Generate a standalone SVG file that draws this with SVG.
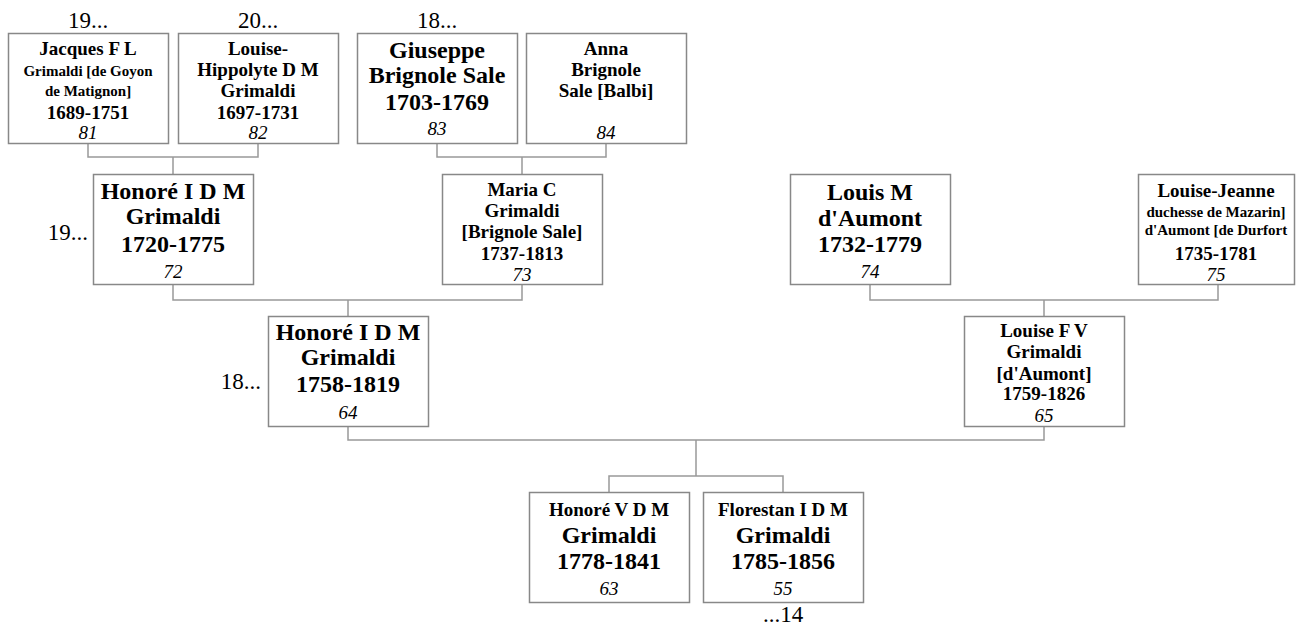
<svg xmlns="http://www.w3.org/2000/svg" width="1296" height="625" viewBox="0 0 1296 625">
<style>
.bx{fill:#fff;stroke:#888;stroke-width:1.5}
.cn{fill:none;stroke:#999;stroke-width:1.5}
text{font-family:"Liberation Serif","Times New Roman",serif;fill:#000;text-anchor:middle}
.b{font-weight:bold}
.s{font-size:15px}
.m{font-size:19px}
.l{font-size:24px}
.n{font-style:italic;font-size:19px}
.o{font-size:23px}
.e{text-anchor:end}
</style>
<rect width="1296" height="625" fill="#fff"/>
<g id="connectors">
<path class="cn" d="M88,143.5V157H258V143.5M173,157V174"/>
<path class="cn" d="M437,143.5V157H606V143.5M522,157V174"/>
<path class="cn" d="M173,284V300H522V284M348,300V316"/>
<path class="cn" d="M870,284V300H1218V284M1044,300V316"/>
<path class="cn" d="M348,426V440H1044V426M696,440V476M609,492V476H783V492"/>
</g>
<g id="labels">
<text class="o" x="88" y="28">19...</text>
<text class="o" x="258" y="28">20...</text>
<text class="o" x="437" y="28">18...</text>
<text class="o e" x="88" y="240">19...</text>
<text class="o e" x="261" y="389">18...</text>
<text class="o" x="783" y="622">...14</text>
</g>
<g id="p81">
<rect class="bx" x="8.5" y="33.5" width="160" height="110"/>
<text class="b m" x="88" y="55">Jacques F L</text>
<text class="b s" x="88" y="76">Grimaldi [de Goyon</text>
<text class="b s" x="88" y="96">de Matignon]</text>
<text class="b m" x="88" y="119">1689-1751</text>
<text class="n" x="88" y="139">81</text>
</g>
<g id="p82">
<rect class="bx" x="178.5" y="33.5" width="160" height="110"/>
<text class="b m" x="258" y="55">Louise-</text>
<text class="b m" x="258" y="76">Hippolyte D M</text>
<text class="b m" x="258" y="97">Grimaldi</text>
<text class="b m" x="258" y="119">1697-1731</text>
<text class="n" x="258" y="139">82</text>
</g>
<g id="p83">
<rect class="bx" x="357.5" y="33.5" width="160" height="110"/>
<text class="b l" x="437" y="58">Giuseppe</text>
<text class="b l" x="437" y="83">Brignole Sale</text>
<text class="b l" x="437" y="110">1703-1769</text>
<text class="n" x="437" y="135">83</text>
</g>
<g id="p84">
<rect class="bx" x="526.5" y="33.5" width="160" height="110"/>
<text class="b m" x="606" y="55">Anna</text>
<text class="b m" x="606" y="76">Brignole</text>
<text class="b m" x="606" y="97">Sale [Balbi]</text>
<text class="n" x="606" y="139">84</text>
</g>
<g id="p72">
<rect class="bx" x="93.5" y="174.5" width="160" height="110"/>
<text class="b l" x="173" y="199">Honoré I D M</text>
<text class="b l" x="173" y="224">Grimaldi</text>
<text class="b l" x="173" y="252">1720-1775</text>
<text class="n" x="173" y="278">72</text>
</g>
<g id="p73">
<rect class="bx" x="442.5" y="174.5" width="160" height="110"/>
<text class="b m" x="522" y="196">Maria C</text>
<text class="b m" x="522" y="217">Grimaldi</text>
<text class="b m" x="522" y="238">[Brignole Sale]</text>
<text class="b m" x="522" y="260">1737-1813</text>
<text class="n" x="522" y="281">73</text>
</g>
<g id="p74">
<rect class="bx" x="790.5" y="174.5" width="160" height="110"/>
<text class="b l" x="870" y="200">Louis M</text>
<text class="b l" x="870" y="226">d'Aumont</text>
<text class="b l" x="870" y="252">1732-1779</text>
<text class="n" x="870" y="278">74</text>
</g>
<g id="p75">
<rect class="bx" x="1138.5" y="174.5" width="156" height="110"/>
<text class="b m" x="1216" y="197">Louise-Jeanne</text>
<text class="b s" x="1216" y="217">duchesse de Mazarin]</text>
<text class="b s" x="1216" y="235">d'Aumont [de Durfort</text>
<text class="b m" x="1216" y="260">1735-1781</text>
<text class="n" x="1216" y="281">75</text>
</g>
<g id="p64">
<rect class="bx" x="268.5" y="316.5" width="160" height="110"/>
<text class="b l" x="348" y="340">Honoré I D M</text>
<text class="b l" x="348" y="365">Grimaldi</text>
<text class="b l" x="348" y="392">1758-1819</text>
<text class="n" x="348" y="419">64</text>
</g>
<g id="p65">
<rect class="bx" x="964.5" y="316.5" width="160" height="110"/>
<text class="b m" x="1044" y="337">Louise F V</text>
<text class="b m" x="1044" y="358">Grimaldi</text>
<text class="b m" x="1044" y="380">[d'Aumont]</text>
<text class="b m" x="1044" y="400">1759-1826</text>
<text class="n" x="1044" y="422">65</text>
</g>
<g id="p63">
<rect class="bx" x="529.5" y="492.5" width="160" height="110"/>
<text class="b m" x="609" y="516">Honoré V D M</text>
<text class="b l" x="609" y="543">Grimaldi</text>
<text class="b l" x="609" y="569">1778-1841</text>
<text class="n" x="609" y="595">63</text>
</g>
<g id="p55">
<rect class="bx" x="703.5" y="492.5" width="160" height="110"/>
<text class="b m" x="783" y="516">Florestan I D M</text>
<text class="b l" x="783" y="543">Grimaldi</text>
<text class="b l" x="783" y="569">1785-1856</text>
<text class="n" x="783" y="595">55</text>
</g>
</svg>
